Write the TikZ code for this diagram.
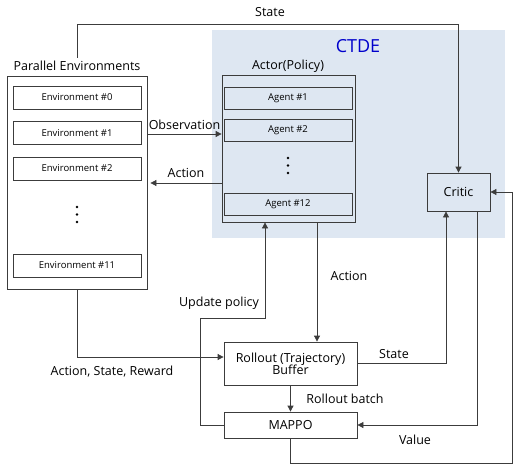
\documentclass[tikz,border=0pt]{standalone}
\usepackage{fontspec}
\setmainfont{Open Sans}
\usetikzlibrary{arrows.meta,calc}
\definecolor{ctdeblue}{RGB}{222,231,242}
\definecolor{linegray}{RGB}{60,60,60}

\begin{document}
\begin{tikzpicture}[x=1pt,y=-1pt,>={Triangle[length=6pt,width=6pt]},
    box/.style={draw=linegray,line width=0.8pt,inner sep=0pt},
    subbox/.style={box,minimum width=128pt,minimum height=23pt,font=\fontsize{9.5}{11}\selectfont},
    title/.style={font=\fontsize{12.5}{14}\selectfont},
    flow/.style={->,draw=linegray,line width=0.8pt},
    lbl/.style={font=\fontsize{12.5}{14}\selectfont},
    dot/.style={fill=black,radius=1.4pt}]
    % 画布大小
    \useasboundingbox (0,0) rectangle (518,473);

    % CTDE 背景区域
    \fill[ctdeblue] (212,30) rectangle (505,238);
    \node[text=blue!80!black,font=\fontsize{18}{20}\selectfont] (ctde) at (358,46) {CTDE};

    % 并行环境
    \node[title] (lblenv) at (77,66) {Parallel Environments};
    \node[box,minimum width=140pt,minimum height=213pt] (penv) at (77,182.5) {};
    \node[subbox] (env0) at (77,97.5) {Environment \#0};
    \node[subbox] (env1) at (77,133) {Environment \#1};
    \node[subbox] (env2) at (77,168.5) {Environment \#2};
    \foreach \y in {207,214.5,222} \fill[dot] (77,\y) circle;
    \node[subbox] (env11) at (77,265.5) {Environment \#11};

    % Actor 与各 Agent
    \node[title] (lblactor) at (288,66) {Actor(Policy)};
    \node[box,minimum width=133pt,minimum height=147pt] (actor) at (288.5,148.5) {};
    \node[subbox,minimum height=22pt] (ag1) at (288,98) {Agent \#1};
    \node[subbox,minimum height=22pt] (ag2) at (288,130.5) {Agent \#2};
    \foreach \y in {158,165.5,173} \fill[dot] (288,\y) circle;
    \node[subbox,minimum height=22pt] (ag12) at (288,204) {Agent \#12};

    % Critic、Buffer、MAPPO
    \node[box,minimum width=63pt,minimum height=38pt,lbl] (critic) at (458.5,192) {Critic};
    \node[box,minimum width=133pt,minimum height=43pt,lbl,align=center] (buffer) at (290.5,363.5)
        {Rollout (Trajectory)\\[-2pt]Buffer};
    \node[box,minimum width=133pt,minimum height=26pt,lbl] (mappo) at (290.5,425) {MAPPO};

    % 辅助坐标
    \coordinate (ytop) at (0,24);
    \coordinate (yobs) at (0,134);
    \coordinate (yact) at (0,183);
    \coordinate (yasr) at (0,357);
    \coordinate (yupd) at (0,318);
    \coordinate (xupd) at (200,0);
    \coordinate (yval) at (0,463);
    \coordinate (xval) at (512,0);

    % 环境 <-> Actor
    \draw[flow] (penv.east |- yobs) -- (actor.west |- yobs)
        node[lbl,midway,above,yshift=1pt] {Observation};
    \draw[flow] (actor.west |- yact) -- ([xshift=3pt]penv.east |- yact)
        node[lbl,midway,above,yshift=2pt] {Action};

    % State 到 Critic
    \draw[flow] (lblenv.north) |- (critic.north |- ytop) -- (critic.north);
    \node[lbl] (lblstate1) at (270,12) {State};

    % Actor -> Buffer
    \draw[flow] ([xshift=28.5pt]actor.south) -- ([xshift=26.5pt]buffer.north);
    \node[lbl] (lblact2) at (349,276) {Action};

    % 环境 -> Buffer
    \draw[flow] (penv.south) |- (buffer.west |- yasr);
    \node[lbl] (lblasr) at (112,372) {Action, State, Reward};

    % Buffer -> Critic
    \draw[flow] (buffer.east) -| ([xshift=-12.5pt]critic.south);
    \node[lbl] (lblstate2) at (394,354) {State};

    % Buffer -> MAPPO
    \draw[flow] (buffer.south) -- (mappo.north);
    \node[lbl] (lblbatch) at (345,399) {Rollout batch};

    % Critic -> MAPPO (Value)
    \draw[flow] ([xshift=18.5pt]critic.south) |- (mappo.east);
    \node[lbl] (lblval) at (415,440) {Value};

    % MAPPO -> Critic
    \draw[flow] (mappo.south) |- (xval |- yval) |- (critic.east);

    % MAPPO -> Actor (Update policy)
    \draw[flow] (mappo.west) -| (xupd |- yupd) -| ([xshift=-23.5pt]actor.south);
    \node[lbl] (lblupd) at (219,303) {Update policy};
\end{tikzpicture}
\end{document}
